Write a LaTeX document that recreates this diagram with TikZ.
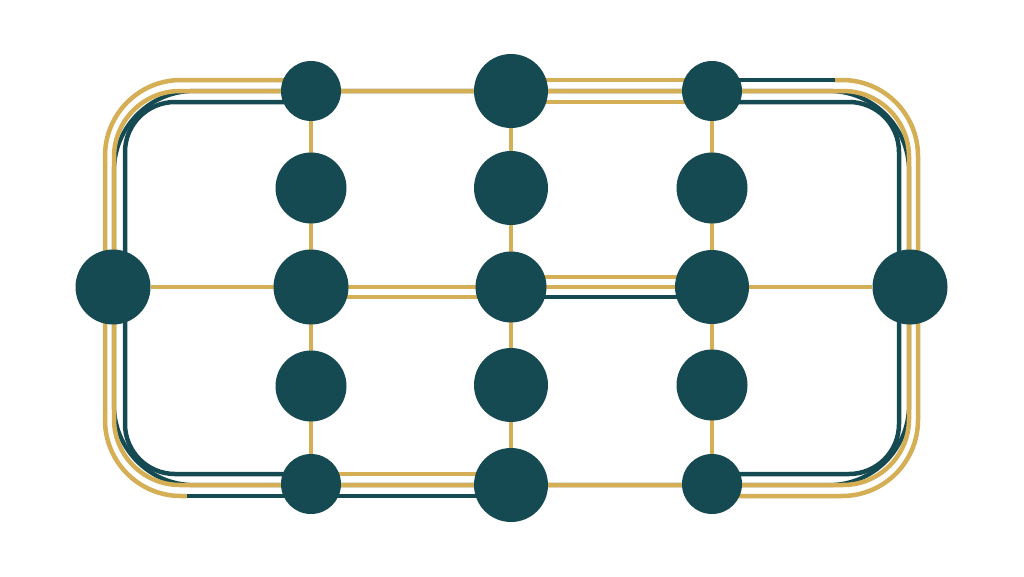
\documentclass[tikz,border=0pt]{standalone}
\usepackage{xcolor}
\usepackage{tikz}
\usetikzlibrary{backgrounds}
\definecolor{deepteal}{RGB}{22,74,82}
\definecolor{ochre}{RGB}{212,175,85}

\begin{document}
\begin{tikzpicture}[x=1pt,y=-1pt,
    station/.style={circle,fill=deepteal,inner sep=0pt,minimum size=#1},
    goldline/.style={ochre,line width=4.5pt},
    tealline/.style={deepteal,line width=4.5pt}]
    \path[use as bounding box] (0,0) rectangle (1024,576);

    % Stations
    \node[station=60pt] (a1) at (311,91) {};
    \node[station=74pt] (b1) at (511,91) {};
    \node[station=60pt] (c1) at (712,91) {};
    \node[station=71pt] (a2) at (311,188) {};
    \node[station=74pt] (b2) at (511,188) {};
    \node[station=71pt] (c2) at (712,188) {};
    \node[station=75pt] (west) at (113,287) {};
    \node[station=75pt] (a3) at (311,287) {};
    \node[station=71pt] (b3) at (511,287) {};
    \node[station=74pt] (c3) at (712,287) {};
    \node[station=75pt] (east) at (910,287) {};
    \node[station=71pt] (a4) at (311,386) {};
    \node[station=74pt] (b4) at (511,385) {};
    \node[station=71pt] (c4) at (712,385) {};
    \node[station=60pt] (a5) at (311,484) {};
    \node[station=74pt] (b5) at (511,485) {};
    \node[station=60pt] (c5) at (712,484) {};

    \begin{scope}[on background layer]
        \fill[white] (0,0) rectangle (1024,576);

        % Grid
        \draw[goldline] (a1) -- (a5);
        \draw[goldline] (b1) -- (b5);
        \draw[goldline] (c1) -- (c5);
        \draw[goldline] (west) -- (east);

        % Middle loop, teal peeking out at the corners
        \draw[deepteal,line width=4.2pt,rounded corners=80pt]
            (114,287) -- (114,91) -- (909,91) -- (909,485) -- (114,485) -- cycle;
        \draw[goldline,rounded corners=66pt]
            (114,287) -- (114,91) -- (909,91) -- (909,485) -- (114,485) -- cycle;

        % Outer track
        \draw[goldline,rounded corners=76pt] (311,80) -- (105,80) -- (105,496) -- (187,496);
        \draw[tealline] (187,496) -- (511,496);
        \draw[goldline] (511,80) -- (712,80);
        \draw[tealline] (712,80) -- (835,80);
        \draw[goldline,rounded corners=76pt] (835,80) -- (918,80) -- (918,496) -- (712,496);

        % Inner track
        \draw[tealline,rounded corners=50pt] (311,102) -- (125,102) -- (125,474) -- (311,474);
        \draw[goldline] (311,474) -- (511,474);
        \draw[goldline] (511,102) -- (712,102);
        \draw[tealline,rounded corners=50pt] (712,102) -- (899,102) -- (899,474) -- (712,474);

        % Middle row
        \draw[goldline] ([yshift=-10pt]a3.center) -- ([yshift=-10pt]b3.center);
        \draw[goldline] ([yshift=10pt]b3.center) -- ([yshift=10pt]c3.center);
        \draw[tealline] ([yshift=-10pt]b3.center) -- ([yshift=-10pt]c3.center);
    \end{scope}
\end{tikzpicture}
\end{document}
